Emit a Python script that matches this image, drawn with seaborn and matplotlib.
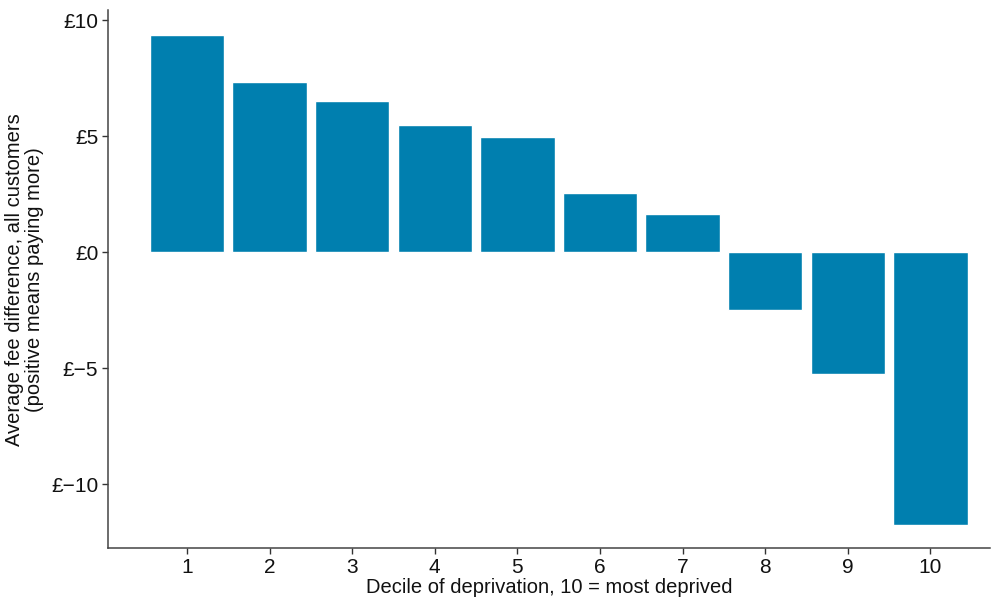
import matplotlib
matplotlib.use("Agg")
import matplotlib.pyplot as plt
import pandas as pd
import seaborn as sns

# Data
deciles = ["1", "2", "3", "4", "5", "6", "7", "8", "9", "10"]
fee_diff = [9.35, 7.35, 6.5, 5.5, 4.97, 2.55, 1.65, -2.5, -5.25, -11.75]
y_ticks = [-10, -5, 0, 5, 10]
y_tick_labels = ["£\u221210", "£\u22125", "£0", "£5", "£10"]

df = pd.DataFrame({"decile": deciles, "diff": fee_diff})

sns.set_style("white")
plt.rcParams["font.family"] = ["Liberation Sans", "DejaVu Sans"]

fig = plt.figure(figsize=(9.97, 5.99), dpi=100)
ax = fig.add_axes([0.1083, 0.085, 0.885, 0.898])

sns.barplot(data=df, x="decile", y="diff", color="#007FAF", saturation=1,
            width=0.9, ax=ax, order=deciles)

ax.set_xlim(-0.957, 9.726)
ax.set_ylim(-12.76, 10.43)
ax.set_yticks(y_ticks)
ax.set_yticklabels(y_tick_labels)

# axis titles
ax.set_xlabel("Decile of deprivation, 10 = most deprived", fontsize=14.5,
              color="#111111", labelpad=1)
ax.set_ylabel("Average fee difference, all customers\n(positive means paying more)",
              fontsize=14.5, color="#111111", labelpad=5, linespacing=1.05)

ax.tick_params(axis="both", labelsize=15, colors="#333333", length=4,
               width=1, labelcolor="#111111", pad=3, bottom=True, left=True)

for s in ["top", "right"]:
    ax.spines[s].set_visible(False)
for s in ["left", "bottom"]:
    ax.spines[s].set_color("#444444")
    ax.spines[s].set_linewidth(1.1)

fig.savefig("out.png", dpi=100)
